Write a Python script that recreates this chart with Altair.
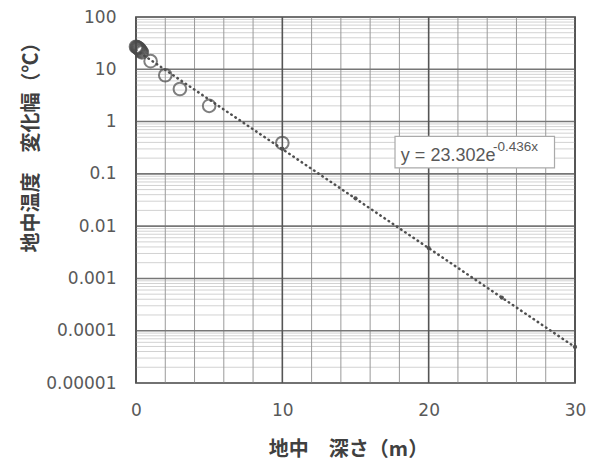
import altair as alt
import pandas as pd

# observed amplitude (open circles)
depth_obs = [0, 0.05, 0.1, 0.15, 0.2, 0.25, 0.3, 0.35, 0.4, 1, 2, 3, 5, 10]
amp_obs = [27, 26.5, 26, 25.5, 25, 24, 23, 22, 21, 14.3, 7.7, 4.2, 2.0, 0.39]

# computed amplitude (small dots)
depth_calc = [10, 15, 20, 25, 30]
amp_calc = [0.30, 0.034, 0.0038, 0.00043, 0.000049]

# exponential trendline y = 23.302 e^(-0.436x), endpoints
trend_x = [0, 30]
trend_y = [23.302, 0.0000486]

# tick / grid values
x_major = [0, 10, 20, 30]
x_minor = [2, 4, 6, 8, 12, 14, 16, 18, 22, 24, 26, 28]
y_major = [0.00001, 0.0001, 0.001, 0.01, 0.1, 1, 10, 100]
y_minor = [m * 10.0 ** e for e in range(-5, 2) for m in range(2, 10)]

# equation label
eq_main = "y = 23.302e"
eq_sup = "-0.436x"

df_obs = pd.DataFrame({"x": depth_obs, "y": amp_obs})
df_calc = pd.DataFrame({"x": depth_calc, "y": amp_calc})
df_trend = pd.DataFrame({"x": trend_x, "y": trend_y})

x_scale = alt.Scale(domain=[0, 30], nice=False)
y_scale = alt.Scale(type="log", domain=[0.00001, 100], nice=False)

x_axis = alt.Axis(
    values=x_major,
    title="地中　深さ（m）",
    grid=False,
    ticks=False,
    domain=False,
    labelOverlap=False,
    labelFlush=False,
    labelPadding=19,
    labelFont="DejaVu Sans",
    labelFontSize=17,
    labelColor="#595959",
    titleFont="Noto Sans CJK JP",
    titleFontSize=20,
    titleFontWeight="bold",
    titleColor="#404040",
    titleX=212,
    titleY=66,
    titleBaseline="middle",
)

y_axis = alt.Axis(
    values=y_major,
    title="地中温度　変化幅（℃）",
    grid=False,
    ticks=False,
    domain=False,
    labelExpr="format(datum.value, '~f')",
    labelOverlap=False,
    labelFlush=False,
    labelPadding=20,
    labelFont="DejaVu Sans",
    labelFontSize=17,
    labelColor="#595959",
    titleFont="Noto Sans CJK JP",
    titleFontSize=20,
    titleFontWeight="bold",
    titleColor="#404040",
    titleX=-105,
    titleY=125,
    titleAngle=270,
    titleAlign="center",
    titleBaseline="middle",
)

base_axes = alt.Chart(df_trend).mark_line(opacity=0).encode(
    x=alt.X("x:Q", scale=x_scale, axis=x_axis),
    y=alt.Y("y:Q", scale=y_scale, axis=y_axis),
)

grid_y_minor = alt.Chart(pd.DataFrame({"v": y_minor})).mark_rule(
    color="#d2d2d2", strokeWidth=1
).encode(y="v:Q")
grid_x_minor = alt.Chart(pd.DataFrame({"v": x_minor})).mark_rule(
    color="#9a9a9a", strokeWidth=1
).encode(x="v:Q")
grid_y_major = alt.Chart(pd.DataFrame({"v": y_major})).mark_rule(
    color="#777777", strokeWidth=1.6
).encode(y="v:Q")
grid_x_major = alt.Chart(pd.DataFrame({"v": x_major})).mark_rule(
    color="#555555", strokeWidth=1.6
).encode(x="v:Q")

trend = alt.Chart(df_trend).mark_line(
    color="#505050", strokeWidth=2.5, strokeDash=[0.5, 4.5], strokeCap="round"
).encode(x="x:Q", y="y:Q")

obs = alt.Chart(df_obs).mark_point(
    shape="circle", filled=False, size=160, color="#4a4a4a", strokeWidth=2
).encode(x="x:Q", y="y:Q")

calc = alt.Chart(df_calc).mark_point(
    shape="circle", filled=True, size=18, color="#505050", opacity=1
).encode(x="x:Q", y="y:Q")

box_df = pd.DataFrame({"x": [17.7], "x2": [28.6], "y": [0.52], "y2": [0.13]})
box = alt.Chart(box_df).mark_rect(
    fill="white", stroke="#aaaaaa", strokeWidth=1.2
).encode(x="x:Q", x2="x2:Q", y="y:Q", y2="y2:Q")

eq_df = pd.DataFrame({"x": [18.1], "y": [0.18], "t": [eq_main]})
eq = alt.Chart(eq_df).mark_text(
    align="left", baseline="alphabetic", font="Liberation Sans", fontSize=18, color="#595959"
).encode(x="x:Q", y="y:Q", text="t:N")

sup_df = pd.DataFrame({"x": [24.4], "y": [0.27], "t": [eq_sup]})
sup = alt.Chart(sup_df).mark_text(
    align="left", baseline="alphabetic", font="Liberation Sans", fontSize=13.5, color="#595959"
).encode(x="x:Q", y="y:Q", text="t:N")

chart = alt.layer(
    base_axes, grid_y_minor, grid_x_minor, grid_y_major, grid_x_major,
    trend, obs, calc, box, eq, sup
).properties(
    width=439,
    height=366,
    autosize=alt.AutoSizeParams(type="none"),
    padding={"left": 128, "top": 9, "right": 17, "bottom": 80},
    background="white",
).configure_view(stroke="#333333", strokeWidth=1.6)

chart.save("out.html", embed_options={"renderer": "svg", "actions": False})
